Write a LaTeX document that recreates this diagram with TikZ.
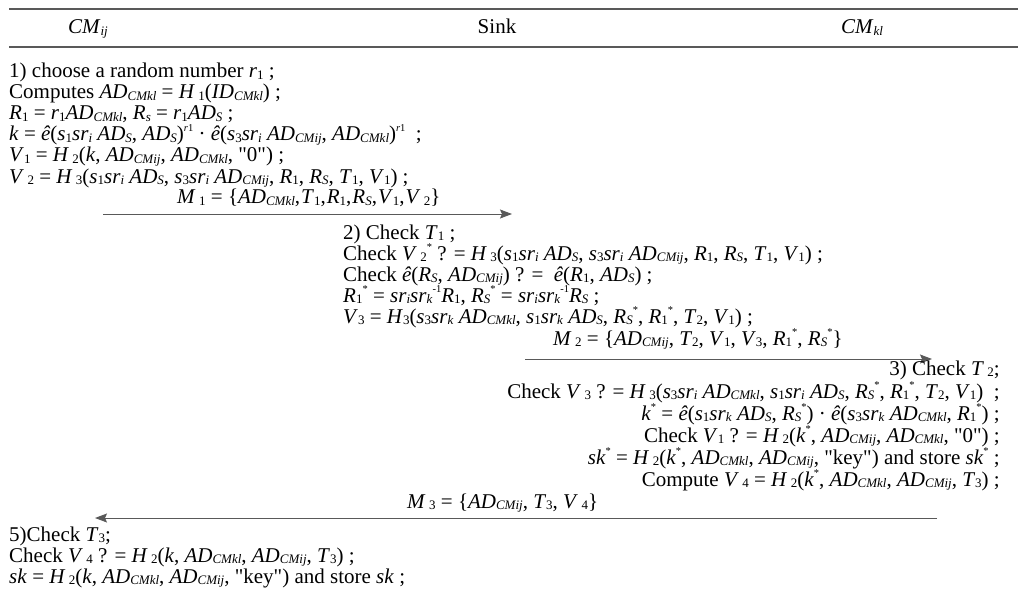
\documentclass[tikz,border=0pt]{standalone}
\usepackage{fontspec}
\setmainfont{Liberation Serif}
\usetikzlibrary{arrows.meta}
% small helpers for the formulas
\newcommand{\iv}[1]{\textit{#1}}
\newcommand{\lo}[1]{\raisebox{-0.2ex}{\fontsize{13}{13}\selectfont #1}}
\newcommand{\loi}[1]{\lo{\textit{#1}}}
\newcommand{\hi}[1]{\raisebox{1.0ex}{\fontsize{10.5}{10.5}\selectfont #1}}
\newcommand{\adij}{\iv{AD}\loi{CMij}}
\newcommand{\adkl}{\iv{AD}\loi{CMkl}}
\newcommand{\ads}{\iv{AD}\loi{S}}
\newcommand{\eh}{\iv{ê}}
\newcommand{\qq}[1]{\textquotedbl#1\textquotedbl}
\newcommand{\cm}{,\kern1pt}
\begin{document}
\begin{tikzpicture}[x=1pt,y=-1pt,
  txt/.style={inner sep=0pt, font=\fontsize{21}{22}\selectfont},
  lft/.style={txt, anchor=base west},
  rgt/.style={txt, anchor=base east},
  mid/.style={txt, anchor=base},
  rule/.style={draw=black!65, line width=1.2pt},
  msg/.style={draw=black!65, line width=1pt, -{Stealth[length=12pt,width=9pt,inset=2pt]}}]
\useasboundingbox (0,0) rectangle (1018,599);
% header
\coordinate (tl) at (9,9);
\coordinate (tr) at (1018,9);
\coordinate (bl) at (9,47);
\coordinate (br) at (1018,47);
\draw[rule] (tl) -- (tr);
\draw[rule] (bl) -- (br);
\node[mid] (hij) at (88,34) {\iv{CM}\loi{ij}};
\node[mid] (hsink) at (497,34) {Sink};
\node[mid] (hkl) at (862,34) {\iv{CM}\loi{kl}};
% CM_ij, step 1
\node[lft] (l1) at (9,78) {1) choose a random number \iv{r}\lo{1} ;};
\node[lft] (l2) at (9,99) {Computes \adkl{} = \iv{H}\,\lo{1}(\iv{ID}\loi{CMkl}) ;};
\node[lft] (l3) at (9,120) {\iv{R}\lo{1} = \iv{r}\lo{1}\adkl, \iv{R}\loi{s} = \iv{r}\lo{1}\ads{} ;};
\node[lft] (l4) at (9,141) {\iv{k} = \eh(\iv{s}\lo{1}\iv{sr}\loi{i} \ads, \ads)\hi{\iv{r}1} · \eh(\iv{s}\lo{3}\iv{sr}\loi{i} \adij, \adkl)\hi{\iv{r}1} \ ;};
\node[lft] (l5) at (9,162) {\iv{V}\lo{1} = \iv{H}\,\lo{2}(\iv{k}, \adij, \adkl, \qq{0}) ;};
\node[lft] (l6) at (9,183) {\iv{V}\,\lo{2} = \iv{H}\,\lo{3}(\iv{s}\lo{1}\iv{sr}\loi{i} \ads, \iv{s}\lo{3}\iv{sr}\loi{i} \adij, \iv{R}\lo{1}, \iv{R}\loi{S}, \iv{T}\lo{1}, \iv{V}\lo{1}) ;};
\node[lft] (m1) at (177,204) {\iv{M}\,\lo{1} = \{\adkl\cm\iv{T}\lo{1}\cm\iv{R}\lo{1}\cm\iv{R}\loi{S}\cm\iv{V}\lo{1}\cm\iv{V}\,\lo{2}\}};
\coordinate (m1a) at (103,214);
\coordinate (m1b) at (512,214);
\draw[msg] (m1a) -- (m1b);
% Sink, step 2
\node[lft] (s1) at (343,239) {2) Check \iv{T}\lo{1} ;};
\node[lft] (s2) at (343,260) {Check \iv{V}\,\lo{2}\hi{*} ? = \iv{H}\,\lo{3}(\iv{s}\lo{1}\iv{sr}\loi{i} \ads, \iv{s}\lo{3}\iv{sr}\loi{i} \adij, \iv{R}\lo{1}, \iv{R}\loi{S}, \iv{T}\lo{1}, \iv{V}\lo{1}) ;};
\node[lft] (s3) at (343,281) {Check \eh(\iv{R}\loi{S}, \adij) ? = \ \eh(\iv{R}\lo{1}, \ads) ;};
\node[lft] (s4) at (343,302) {\iv{R}\lo{1}\hi{*} = \iv{sr}\loi{i}\iv{sr}\loi{k}\hi{-1}\iv{R}\lo{1}, \iv{R}\loi{S}\hi{*} = \iv{sr}\loi{i}\iv{sr}\loi{k}\hi{-1}\iv{R}\loi{S} ;};
\node[lft] (s5) at (343,323) {\iv{V}\lo{3} = \iv{H}\lo{3}(\iv{s}\lo{3}\iv{sr}\loi{k} \adkl, \iv{s}\lo{1}\iv{sr}\loi{k} \ads, \iv{R}\loi{S}\hi{*}, \iv{R}\lo{1}\hi{*}, \iv{T}\lo{2}, \iv{V}\lo{1}) ;};
\node[lft] (m2) at (553,345) {\iv{M}\,\lo{2} = \{\adij, \iv{T}\lo{2}, \iv{V}\lo{1}, \iv{V}\lo{3}, \iv{R}\lo{1}\hi{*}, \iv{R}\loi{S}\hi{*}\}};
\coordinate (m2a) at (525,359);
\coordinate (m2b) at (932,359);
\draw[msg] (m2a) -- (m2b);
% CM_kl, step 3
\node[rgt] (r1) at (1000,375) {3) Check \iv{T}\,\lo{2};};
\node[rgt] (r2) at (1000,398) {Check \iv{V}\,\lo{3} ? = \iv{H}\,\lo{3}(\iv{s}\lo{3}\iv{sr}\loi{i} \adkl, \iv{s}\lo{1}\iv{sr}\loi{i} \ads, \iv{R}\loi{S}\hi{*}, \iv{R}\lo{1}\hi{*}, \iv{T}\lo{2}, \iv{V}\lo{1}) \ ;};
\node[rgt] (r3) at (1000,420) {\iv{k}\hi{*} = \eh(\iv{s}\lo{1}\iv{sr}\loi{k} \ads, \iv{R}\loi{S}\hi{*}) · \eh(\iv{s}\lo{3}\iv{sr}\loi{k} \adkl, \iv{R}\lo{1}\hi{*}) ;};
\node[rgt] (r4) at (1000,442) {Check \iv{V}\lo{1} ? = \iv{H}\,\lo{2}(\iv{k}\hi{*}, \adij, \adkl, \qq{0}) ;};
\node[rgt] (r5) at (1000,464) {\iv{sk}\hi{*} = \iv{H}\,\lo{2}(\iv{k}\hi{*}, \adkl, \adij, \qq{key}) and store \iv{sk}\hi{*} ;};
\node[rgt] (r6) at (1000,486) {Compute \iv{V}\,\lo{4} = \iv{H}\,\lo{2}(\iv{k}\hi{*}, \adkl, \adij, \iv{T}\lo{3}) ;};
\node[lft] (m3) at (407,508) {\iv{M}\,\lo{3} = \{\adij, \iv{T}\lo{3}, \iv{V}\,\lo{4}\}};
\coordinate (m3a) at (937,518);
\coordinate (m3b) at (95,518);
\draw[msg] (m3a) -- (m3b);
% CM_ij, step 5
\node[lft] (e1) at (9,541) {5)Check \iv{T}\lo{3};};
\node[lft] (e2) at (9,562) {Check \iv{V}\,\lo{4} ? = \iv{H}\,\lo{2}(\iv{k}, \adkl, \adij, \iv{T}\lo{3}) ;};
\node[lft] (e3) at (9,583) {\iv{sk} = \iv{H}\,\lo{2}(\iv{k}, \adkl, \adij, \qq{key}) and store \iv{sk} ;};
\end{tikzpicture}
\end{document}
